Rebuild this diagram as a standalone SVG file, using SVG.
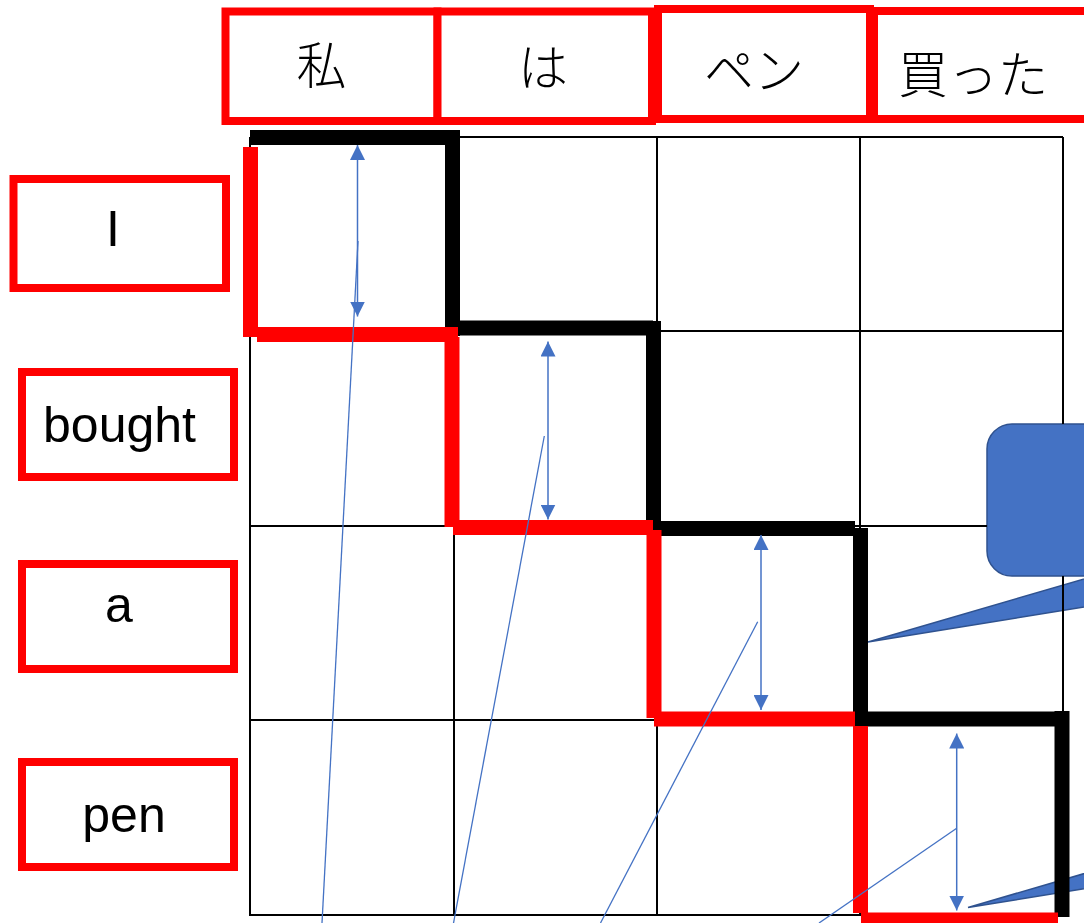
<svg xmlns="http://www.w3.org/2000/svg" width="1084" height="923" viewBox="0 0 1084 923">
<defs>
<style>
.hbox{fill:#fff;stroke:#ff0000;stroke-width:8}
.jp{font-family:"Noto Sans CJK JP","Noto Sans CJK SC",sans-serif;font-weight:300;font-size:50px;fill:#000;text-anchor:middle}
.en{font-family:"Liberation Sans",Arial,sans-serif;font-size:50px;fill:#000;text-anchor:middle}
.grid line{stroke:#000;stroke-width:2}
.thickK line{stroke:#000;stroke-width:15;stroke-linecap:butt}
.thickR line{stroke:#ff0000;stroke-width:15;stroke-linecap:butt}
.arr{stroke:#4472C4;stroke-width:1.5;fill:none;marker-start:url(#ah);marker-end:url(#ah)}
.thin{stroke:#4472C4;stroke-width:1.3;fill:none}
.callout{fill:#4472C4;stroke:#2F528F;stroke-width:1.5}
</style>
<marker id="ah" viewBox="0 0 15 15" markerWidth="15" markerHeight="15" refX="15" refY="7.5" orient="auto-start-reverse" markerUnits="userSpaceOnUse">
<path d="M0,0 L15,7.5 L0,15 Z" fill="#4472C4"/>
</marker>
</defs>
<rect width="1084" height="923" fill="#fff"/>

<!-- callouts (under grid) -->
<g id="callout1">
<path class="callout" d="M1012,424 H1300 V576 H1275 L868,642 L1094,576 H1012 A25,25 0 0 1 987,551 V449 A25,25 0 0 1 1012,424 Z"/>
</g>
<g id="callout2" transform="translate(100,265.5)">
<path class="callout" d="M1012,424 H1300 V576 H1275 L868,642 L1094,576 H1012 A25,25 0 0 1 987,551 V449 A25,25 0 0 1 1012,424 Z"/>
</g>

<!-- grid -->
<g id="grid" class="grid">
<line x1="250" y1="137" x2="1063" y2="137"/>
<line x1="250" y1="331" x2="1063" y2="331"/>
<line x1="250" y1="526" x2="987" y2="526"/>
<line x1="250" y1="720" x2="1063" y2="720"/>
<line x1="249" y1="915" x2="1064" y2="915"/>
<line x1="250" y1="137" x2="250" y2="915"/>
<line x1="454" y1="137" x2="454" y2="915"/>
<line x1="657" y1="137" x2="657" y2="915"/>
<line x1="860" y1="137" x2="860" y2="915"/>
<line x1="1063" y1="137" x2="1063" y2="424"/>
<line x1="1063" y1="576" x2="1063" y2="915"/>
</g>

<!-- header words -->
<g id="h1"><rect class="hbox" x="225.5" y="11.5" width="212" height="109.5"/><text class="jp" x="321.5" y="84">私</text></g>
<g id="h2"><rect class="hbox" x="437.5" y="11.5" width="214.5" height="109.5"/><text class="jp" x="543" y="86">は</text></g>
<g id="h3"><rect class="hbox" x="658" y="9" width="212" height="110"/><text class="jp" x="754" y="89">ペン</text></g>
<g id="h4"><rect class="hbox" x="874" y="11" width="240" height="108"/><text class="jp" x="973" y="93">買った</text></g>

<!-- row words -->
<g id="r1"><rect class="hbox" x="13.5" y="179" width="212.5" height="109"/><text class="en" x="113" y="246">I</text></g>
<g id="r2"><rect class="hbox" x="22" y="372" width="212" height="105"/><text class="en" x="119.5" y="442">bought</text></g>
<g id="r3"><rect class="hbox" x="22" y="564" width="212" height="105"/><text class="en" x="119" y="622">a</text></g>
<g id="r4"><rect class="hbox" x="22" y="762" width="212" height="105"/><text class="en" x="124" y="832">pen</text></g>

<!-- connectors -->
<g id="connectors">
<g class="thickK">
<line x1="250" y1="137.5" x2="452" y2="137.5"/>
<line x1="452.5" y1="130" x2="452.5" y2="336"/>
<line x1="460" y1="328" x2="653" y2="328"/>
<line x1="653.5" y1="321" x2="653.5" y2="533"/>
<line x1="661" y1="528.5" x2="855" y2="528.5"/>
<line x1="860.5" y1="528" x2="860.5" y2="727"/>
<line x1="868" y1="719" x2="1055" y2="719"/>
<line x1="1062" y1="711" x2="1062" y2="917"/>
</g>
<g class="thickR">
<line x1="250.5" y1="147" x2="250.5" y2="337"/>
<line x1="257" y1="334.5" x2="458" y2="334.5"/>
<line x1="452" y1="337" x2="452" y2="527"/>
<line x1="453" y1="527.5" x2="653" y2="527.5"/>
<line x1="654" y1="530" x2="654" y2="718"/>
<line x1="654" y1="719" x2="855" y2="719"/>
<line x1="860.5" y1="726" x2="860.5" y2="913"/>
<line x1="861" y1="920" x2="1058" y2="920"/>
</g>
<line class="arr" x1="357.5" y1="145" x2="357.5" y2="316.5"/>
<line class="arr" x1="548" y1="341.5" x2="548" y2="519.5"/>
<line class="arr" x1="761" y1="535" x2="761" y2="710"/>
<line class="arr" x1="956.7" y1="733.5" x2="956.7" y2="910.5"/>
<line class="thin" x1="358" y1="241" x2="322" y2="923"/>
<line class="thin" x1="544.3" y1="436" x2="453.5" y2="923"/>
<line class="thin" x1="757.7" y1="621.7" x2="600.5" y2="923"/>
<line class="thin" x1="956.7" y1="828.3" x2="819" y2="923"/>
</g>
</svg>
